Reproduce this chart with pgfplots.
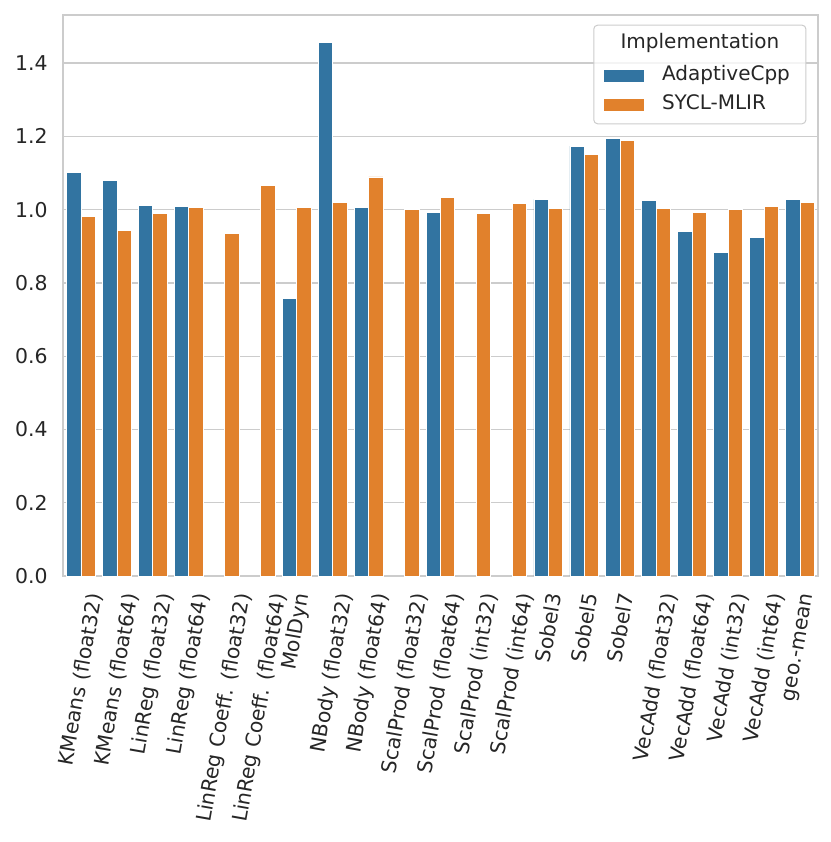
\documentclass[border=0pt]{standalone}
\usepackage{graphicx}
\usepackage{fontspec}
\setmainfont{DejaVu Sans}
\usepackage{pgfplots}
\pgfplotsset{compat=1.18}
\definecolor{cblue}{HTML}{3274A1}
\definecolor{corange}{HTML}{E1812C}
\definecolor{cgrid}{HTML}{CCCCCC}
\definecolor{ctext}{HTML}{262626}
\newcommand{\rl}[1]{\rotatebox{80}{#1}}
\begin{document}
\begin{tikzpicture}
\begin{axis}[
  at={(0,0)}, anchor=south west,
  scale only axis, width=377.5pt, height=280.5pt,
  xmin=-0.5, xmax=20.5, ymin=0, ymax=1.5311,
  ybar, bar width=0.4,
  xtick={0,...,20},
  xticklabels={\rl{KMeans (float32)},\rl{KMeans (float64)},\rl{LinReg (float32)},\rl{LinReg (float64)},\rl{LinReg Coeff. (float32)},\rl{LinReg Coeff. (float64)},\rl{MolDyn},\rl{NBody (float32)},\rl{NBody (float64)},\rl{ScalProd (float32)},\rl{ScalProd (float64)},\rl{ScalProd (int32)},\rl{ScalProd (int64)},\rl{Sobel3},\rl{Sobel5},\rl{Sobel7},\rl{VecAdd (float32)},\rl{VecAdd (float64)},\rl{VecAdd (int32)},\rl{VecAdd (int64)},\rl{geo.-mean}},
  ytick={0,0.2,0.4,0.6,0.8,1.0,1.2,1.4},
  yticklabel style={/pgf/number format/fixed, /pgf/number format/fixed zerofill, /pgf/number format/precision=1, anchor=east, inner sep=0pt, xshift=-7.5pt},
  /pgf/number format/assume math mode=true,
  ymajorgrids, grid style={cgrid, line width=0.65pt},
  axis line style={cgrid, line width=0.65pt},
  major tick length=0pt,
  tick label style={font=\fontsize{10.2}{12}\selectfont, color=ctext},
  xticklabel style={anchor=north, inner sep=0pt, yshift=-8pt},
  legend image code/.code={\fill[#1, draw=none] (0pt,-3pt) rectangle (20pt,3pt);},
  legend cell align=left,
  legend style={at={(0.7166,0.9091)}, anchor=north west, draw=none, fill=none,
    inner sep=0pt, outer sep=0pt, row sep=4.5pt, column sep=9pt,
    font=\fontsize{10}{12}\selectfont, text=ctext,
    nodes={inner sep=0pt, text height=7.5pt, text depth=2.5pt}},
]
\addplot[fill=cblue, draw=white, line width=0.4pt, bar shift=-0.2] coordinates {
 (0,1.102) (1,1.080) (2,1.012) (3,1.009) (6,0.757) (7,1.456) (8,1.005)
 (10,0.991) (13,1.028) (14,1.173) (15,1.193) (16,1.026) (17,0.940)
 (18,0.884) (19,0.925) (20,1.028)};
\addlegendentry{AdaptiveCpp}
\addplot[fill=corange, draw=white, line width=0.4pt, bar shift=0.2] coordinates {
 (0,0.982) (1,0.944) (2,0.989) (3,1.007) (4,0.935) (5,1.067) (6,1.007)
 (7,1.020) (8,1.089) (9,1.001) (10,1.033) (11,0.990) (12,1.017)
 (13,1.003) (14,1.151) (15,1.188) (16,1.003) (17,0.992) (18,1.000)
 (19,1.008) (20,1.020)};
\addlegendentry{SYCL-MLIR}
\draw[cgrid, fill=white, fill opacity=0.8, rounded corners=2pt, line width=0.5pt]
  (rel axis cs:0.703,0.806) rectangle (rel axis cs:0.984,0.982);
\node[ctext, font=\fontsize{10}{12}\selectfont] at (rel axis cs:0.8437,0.950) {Implementation};
\end{axis}
\pgfresetboundingbox
\useasboundingbox (-31.5pt,-133pt) rectangle (384pt,288pt);
\end{tikzpicture}
\end{document}
